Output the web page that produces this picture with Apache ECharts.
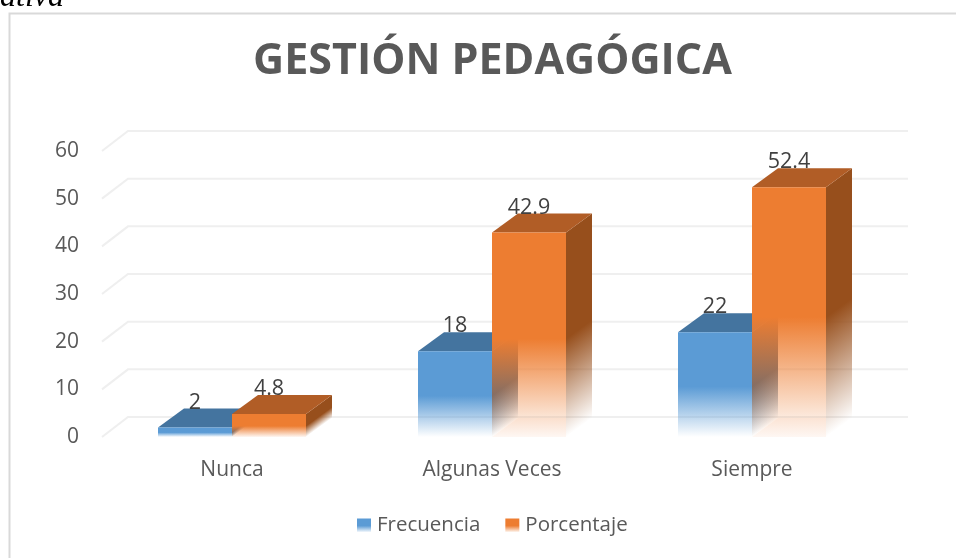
<!DOCTYPE html>
<html>
<head>
<meta charset="utf-8">
<style>
  html, body { margin: 0; padding: 0; background: #fff; }
  #chart { width: 956px; height: 558px; }
</style>
<script src="https://cdn.jsdelivr.net/npm/echarts@6/dist/echarts.min.js"></script>
</head>
<body>
<div id="chart"></div>
<script>
const categories = ['Nunca', 'Algunas Veces', 'Siempre'];
const frecuencia = [2, 18, 22];
const porcentaje = [4.8, 42.9, 52.4];
const yTicks = [0, 10, 20, 30, 40, 50, 60];

const barW = 74, depthX = 26, depthY = 19;
const fadeStart = 0.52;
const labelFont = '"Open Sans", sans-serif';

const chart = echarts.init(document.getElementById('chart'), null, { renderer: 'canvas' });

// vertical fade, solid on the upper part and gone at the floor
function fade(color, clear) {
  return [
    { offset: 0, color: color },
    { offset: fadeStart, color: color },
    { offset: 1, color: clear }
  ];
}

function barItem(side, front, sideColor, topColor, floorAlpha) {
  const clearFront = 'rgba(' + front.join(',') + ',0)';
  const solidFront = 'rgb(' + front.join(',') + ')';
  const clearSide = 'rgba(' + sideColor.join(',') + ',0)';
  const solidSide = 'rgb(' + sideColor.join(',') + ')';
  return function (params, api) {
    const top = api.coord([api.value(0), api.value(1)]);
    const base = api.coord([api.value(0), 0]);
    const x0 = top[0] + side * barW;
    const x1 = x0 + barW;
    const h = base[1] - top[1];
    // side face fades along the slanted floor edge
    const k = 26 / 32.2 * h;
    const sideGrad = new echarts.graphic.LinearGradient(
      x1, top[1], x1 + k * 19 / 32.2, top[1] + k * 26 / 32.2,
      fade(solidSide, clearSide), true);
    return {
      type: 'group',
      children: [
        {
          // pale floor, stops at the front face's right edge
          type: 'polygon',
          shape: { points: [[x0, base[1]], [x1, base[1]], [x1, base[1] - depthY], [x0 + depthX, base[1] - depthY]] },
          style: { fill: 'rgba(' + front.join(',') + ',' + floorAlpha + ')' }
        },
        {
          type: 'polygon',
          shape: { points: [[x1, top[1]], [x1 + depthX, top[1] - depthY], [x1 + depthX, base[1] - depthY], [x1, base[1]]] },
          style: { fill: sideGrad }
        },
        {
          type: 'polygon',
          shape: { points: [[x0, top[1]], [x1, top[1]], [x1 + depthX, top[1] - depthY], [x0 + depthX, top[1] - depthY]] },
          style: { fill: topColor }
        },
        {
          type: 'rect',
          shape: { x: x0, y: top[1], width: barW, height: h },
          style: {
            fill: new echarts.graphic.LinearGradient(0, 0, 0, 1, fade(solidFront, clearFront))
          }
        },
        {
          type: 'text',
          style: {
            x: x0 + barW / 2,
            y: top[1] - 25,
            text: String(api.value(1)),
            fill: '#404040',
            font: '21.5px ' + labelFont,
            align: 'center',
            verticalAlign: 'middle'
          },
          z2: 20
        }
      ]
    };
  };
}

const option = {
  animation: false,
  backgroundColor: '#fff',
  title: {
    text: 'GESTIÓN PEDAGÓGICA',
    left: 487.5,
    textAlign: 'center',
    top: 35,
    textStyle: { fontFamily: labelFont, fontSize: 43, fontWeight: 'bold', color: '#595959' }
  },
  legend: {
    left: 357,
    top: 515,
    padding: 0,
    itemWidth: 14,
    itemHeight: 14,
    itemGap: 25,
    selectedMode: false,
    icon: 'rect',
    textStyle: { fontFamily: labelFont, fontSize: 20.5, color: '#595959', padding: [0, 0, 0, 1] },
    data: ['Frecuencia', 'Porcentaje']
  },
  grid: { left: 102, right: 74, top: 151, bottom: 121 },
  xAxis: {
    type: 'category',
    data: categories,
    axisLine: { show: false },
    axisTick: { show: false },
    axisLabel: { fontFamily: labelFont, fontSize: 21, color: '#595959', margin: 23 }
  },
  yAxis: {
    type: 'value',
    min: 0,
    max: 60,
    interval: 10,
    axisLine: { show: false },
    axisTick: { show: false },
    splitLine: { show: false },
    axisLabel: { fontFamily: labelFont, fontSize: 21, color: '#595959', margin: 23 }
  },
  series: [
    {
      // back wall and left wall lines, one per tick
      type: 'custom',
      silent: true,
      clip: false,
      data: yTicks.map(function (t) { return [0, t]; }),
      renderItem: function (params, api) {
        const p = api.coord([0, api.value(1)]);
        const x0 = params.coordSys.x;
        const x1 = x0 + params.coordSys.width;
        const lineStyle = { fill: 'none', stroke: '#EFEFEF', lineWidth: 2 };
        return {
          type: 'polyline',
          shape: { points: [[x0, p[1]], [x0 + depthX, p[1] - depthY - 1], [x1 + depthX, p[1] - depthY - 1]] },
          style: lineStyle
        };
      },
      encode: { x: 0, y: 1 },
      z: 1
    },
    {
      name: 'Frecuencia',
      type: 'custom',
      clip: false,
      itemStyle: {
        color: new echarts.graphic.LinearGradient(0, 0, 0, 1, fade('rgb(91,155,213)', 'rgba(91,155,213,0)'))
      },
      data: categories.map(function (c, i) { return [i, frecuencia[i]]; }),
      renderItem: barItem(-1, [91, 155, 213], [58, 99, 136], '#44749F', 0),
      encode: { x: 0, y: 1 },
      z: 2
    },
    {
      name: 'Porcentaje',
      type: 'custom',
      clip: false,
      itemStyle: {
        color: new echarts.graphic.LinearGradient(0, 0, 0, 1, fade('rgb(237,125,49)', 'rgba(237,125,49,0)'))
      },
      data: categories.map(function (c, i) { return [i, porcentaje[i]]; }),
      renderItem: barItem(0, [237, 125, 49], [151, 79, 28], '#B15D26', 0.06),
      encode: { x: 0, y: 1 },
      z: 3
    }
  ],
  graphic: [
    {
      type: 'rect',
      silent: true,
      z: -1,
      shape: { x: 9.5, y: 13.5, width: 1000, height: 600 },
      style: { fill: 'none', stroke: '#D9D9D9', lineWidth: 2 }
    },
    {
      type: 'text',
      silent: true,
      style: {
        x: 0,
        y: -18,
        text: 'ativa',
        fill: '#000',
        font: 'italic 32px "Liberation Serif", serif'
      }
    }
  ]
};

chart.setOption(option);
</script>
</body>
</html>
